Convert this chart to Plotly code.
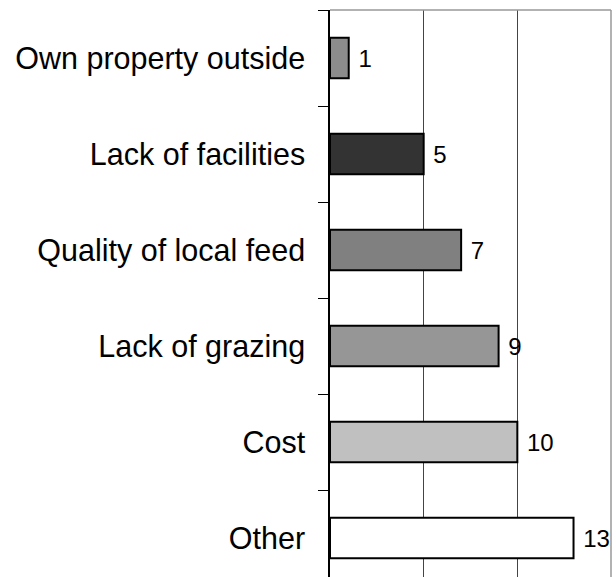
import plotly.graph_objects as go

# categories listed top to bottom
reasons = ["Own property outside", "Lack of facilities", "Quality of local feed",
           "Lack of grazing", "Cost", "Other"]
counts = [1, 5, 7, 9, 10, 13]
bar_colors = ["#8c8c8c", "#333333", "#808080", "#969696", "#c0c0c0", "#ffffff"]

fig = go.Figure(go.Bar(
    x=counts,
    y=reasons,
    orientation="h",
    marker=dict(color=bar_colors, line=dict(color="black", width=2)),
    text=["\u00a0" + str(v) for v in counts],
    textposition="outside",
    textfont=dict(size=24, color="black", family="Liberation Sans, Arial, sans-serif"),
    constraintext="none",
    cliponaxis=False,
))

fig.update_layout(
    width=616, height=577,
    margin=dict(l=330, r=5, t=10, b=0),
    plot_bgcolor="white", paper_bgcolor="white",
    showlegend=False,
    bargap=0.58,
    font=dict(family="Liberation Sans, Arial, sans-serif", color="black"),
    shapes=[
        # top and right frame of the plot area
        dict(type="line", xref="paper", yref="paper", x0=0, x1=1, y0=1, y1=1,
             line=dict(color="#999999", width=1.5)),
        dict(type="line", xref="paper", yref="paper", x0=1, x1=1, y0=0, y1=1,
             line=dict(color="#999999", width=1.5)),
    ],
)

fig.update_xaxes(
    range=[0, 15], dtick=5, showticklabels=False, ticks="",
    showgrid=True, gridcolor="#444444", gridwidth=1,
    zeroline=False, showline=False, automargin=False,
)

fig.update_yaxes(
    type="category",
    range=[5.406, -0.5],
    tickson="boundaries", ticks="outside", ticklen=10, tickcolor="black", tickwidth=1,
    showline=True, linecolor="black", linewidth=1.5,
    showgrid=False, zeroline=False, automargin=False,
    tickfont=dict(size=30.5, color="black"),
    ticklabelstandoff=17,
)

# drop the browser's default page margin so the figure sits at the window corner
fig.write_html("out.html",
               config={"displayModeBar": False},
               post_script="document.body.style.margin='0';document.body.style.overflow='hidden';")
